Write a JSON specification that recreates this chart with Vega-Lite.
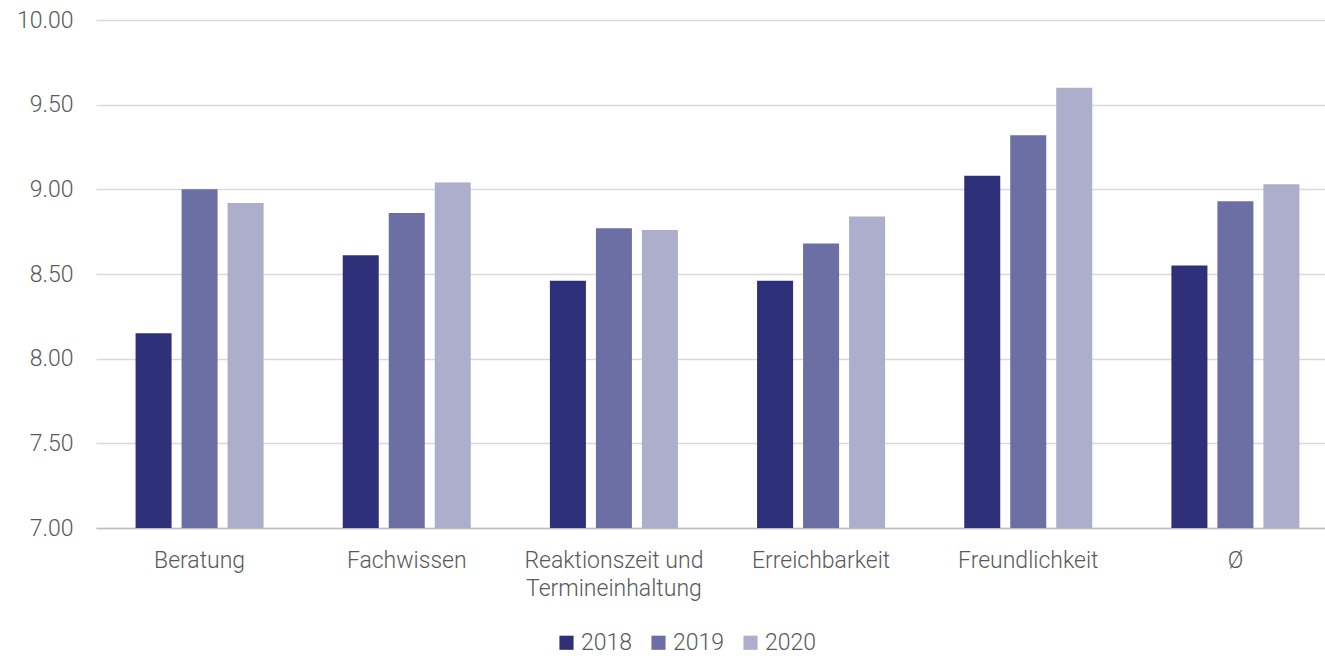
{
  "$schema": "https://vega.github.io/schema/vega-lite/v6.json",
  "width": 1243,
  "height": 508,
  "autosize": {"type": "none"},
  "padding": {"left": 96, "top": 20, "right": 0, "bottom": 128},
  "background": "white",
  "config": {
    "font": "Roboto",
    "view": {"stroke": null},
    "axis": {"labelFont": "Roboto", "labelFontWeight": 300, "labelColor": "#595959", "labelFontSize": 23}
  },
  "data": {
    "values": [
      {"Kategorie": "Beratung", "Jahr": "2018", "Wert": 8.15},
      {"Kategorie": "Beratung", "Jahr": "2019", "Wert": 9.00},
      {"Kategorie": "Beratung", "Jahr": "2020", "Wert": 8.92},
      {"Kategorie": "Fachwissen", "Jahr": "2018", "Wert": 8.61},
      {"Kategorie": "Fachwissen", "Jahr": "2019", "Wert": 8.86},
      {"Kategorie": "Fachwissen", "Jahr": "2020", "Wert": 9.04},
      {"Kategorie": "Reaktionszeit und Termineinhaltung", "Jahr": "2018", "Wert": 8.46},
      {"Kategorie": "Reaktionszeit und Termineinhaltung", "Jahr": "2019", "Wert": 8.77},
      {"Kategorie": "Reaktionszeit und Termineinhaltung", "Jahr": "2020", "Wert": 8.76},
      {"Kategorie": "Erreichbarkeit", "Jahr": "2018", "Wert": 8.46},
      {"Kategorie": "Erreichbarkeit", "Jahr": "2019", "Wert": 8.68},
      {"Kategorie": "Erreichbarkeit", "Jahr": "2020", "Wert": 8.84},
      {"Kategorie": "Freundlichkeit", "Jahr": "2018", "Wert": 9.08},
      {"Kategorie": "Freundlichkeit", "Jahr": "2019", "Wert": 9.32},
      {"Kategorie": "Freundlichkeit", "Jahr": "2020", "Wert": 9.60},
      {"Kategorie": "Ø", "Jahr": "2018", "Wert": 8.55},
      {"Kategorie": "Ø", "Jahr": "2019", "Wert": 8.93},
      {"Kategorie": "Ø", "Jahr": "2020", "Wert": 9.03}
    ]
  },
  "mark": {"type": "bar", "clip": true},
  "encoding": {
    "x": {
      "field": "Kategorie",
      "type": "nominal",
      "sort": null,
      "scale": {"paddingInner": 0.382, "paddingOuter": 0.191},
      "axis": {
        "title": null,
        "labelAngle": 0,
        "ticks": false,
        "domainColor": "#bfbfbf",
        "domainWidth": 1.5,
        "labelPadding": 21,
        "labelLineHeight": 28,
        "labelExpr": "datum.label == 'Reaktionszeit und Termineinhaltung' ? ['Reaktionszeit und', 'Termineinhaltung'] : datum.label"
      }
    },
    "xOffset": {"field": "Jahr", "type": "nominal", "scale": {"paddingInner": 0.217, "paddingOuter": 0}},
    "y": {
      "field": "Wert",
      "type": "quantitative",
      "scale": {"domain": [7, 10], "zero": false, "nice": false},
      "axis": {
        "title": null,
        "values": [7, 7.5, 8, 8.5, 9, 9.5, 10],
        "format": ".2f",
        "domain": false,
        "ticks": false,
        "labelPadding": 23,
        "gridColor": "#d9d9d9",
        "gridWidth": 1.5
      }
    },
    "color": {
      "field": "Jahr",
      "type": "nominal",
      "scale": {"domain": ["2018", "2019", "2020"], "range": ["#2e3179", "#6b6fa3", "#acaecc"]},
      "legend": {
        "title": null,
        "orient": "none",
        "direction": "horizontal",
        "legendX": 459,
        "legendY": 611,
        "symbolType": "square",
        "symbolSize": 200,
        "symbolStrokeWidth": 0,
        "symbolOpacity": 1,
        "labelFont": "Roboto",
        "labelFontWeight": 300,
        "labelFontSize": 23,
        "labelColor": "#595959",
        "labelOffset": 3,
        "columnPadding": 14
      }
    }
  }
}
